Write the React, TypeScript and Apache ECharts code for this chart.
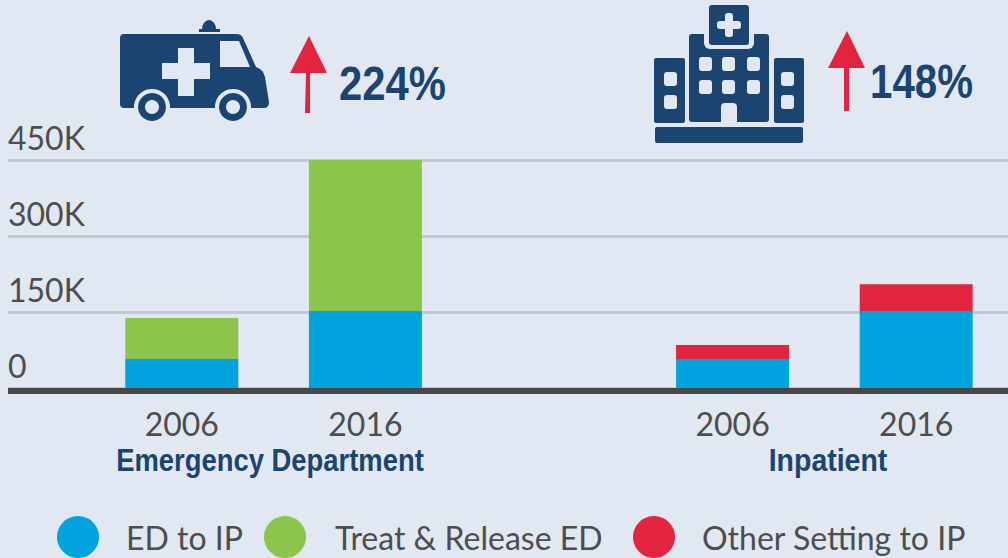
import React, { useEffect, useRef } from "react";
import * as echarts from "echarts";

const categories = ["2006", "2016", "", "2006", "2016"];
const edToIp = [57000, 152000, null, 57000, 152000];
const treatRelease = [81000, 298000, null, null, null];
const otherSetting = [null, null, null, 28000, 53000];
const yTicks = [0, 150000, 300000, 450000];

const BG = "#E1E8F1";
const NAVY = "#1B4471";
const RED = "#E3243F";
const TEXT = "#4D4D4D";

const AMBULANCE =
  "M124 34 L237 34 Q241 34 243 38 L256 67 Q263 69 265 77 L269 102 Q269 108 264 108 L124 108 Q120 108 120 104 L120 38 Q120 34 124 34 Z";
const DOME = "M202 29 A7 9 0 0 1 216 29 Z";

echarts.graphic.registerShape("ambulanceBody", echarts.graphic.extendPath(AMBULANCE, {}) as any);
echarts.graphic.registerShape("ambulanceDome", echarts.graphic.extendPath(DOME, {}) as any);

const rect = (x: number, y: number, w: number, h: number, fill: string, r: any = 0) => ({
  type: "rect",
  shape: { x, y, width: w, height: h, r },
  style: { fill },
});
const circle = (cx: number, cy: number, r: number, fill: string) => ({
  type: "circle",
  shape: { cx, cy, r },
  style: { fill },
});
const poly = (points: number[][], fill: string) => ({
  type: "polygon",
  shape: { points },
  style: { fill },
});
const label = (text: string, x: number, y: number, size: number, scaleX: number, align = "left") => ({
  type: "text",
  x,
  y,
  scaleX,
  style: {
    text,
    fill: NAVY,
    fontFamily: "'Liberation Sans', sans-serif",
    fontWeight: "bold",
    fontSize: size,
    align,
    verticalAlign: "middle",
  },
});

const ambulance = [
  { type: "ambulanceBody", x: 0, y: 0, style: { fill: NAVY } },
  { type: "ambulanceDome", x: 0, y: 0, style: { fill: NAVY } },
  rect(199, 29, 21, 3, NAVY),
  rect(178, 48, 16, 48, BG),
  rect(162, 63, 48, 16, BG),
  poly([[220, 41], [239, 41], [250, 67], [220, 67]], BG),
  circle(152, 107, 18, BG),
  circle(233, 107, 18, BG),
  circle(152, 107, 14, NAVY),
  circle(233, 107, 14, NAVY),
  circle(152, 107, 7, BG),
  circle(233, 107, 7, BG),
];

const hospitalWindows = [
  [699, 57], [722, 57], [747, 57],
  [699, 80], [722, 80], [747, 80],
  [664, 72], [664, 95], [781, 72], [781, 95],
];

const hospital = [
  rect(689, 34, 80, 88, NAVY, 3),
  rect(654, 58, 31, 65, NAVY, 2),
  rect(774, 58, 30, 65, NAVY, 2),
  rect(655, 127, 148, 16, NAVY, 2),
  rect(704, 20, 50, 29, BG, 6),
  rect(709, 5, 40, 40, NAVY, 3),
  rect(725, 13, 8, 24, BG, 3),
  rect(717, 21, 24, 8, BG, 3),
  ...hospitalWindows.map(([x, y]) => rect(x, y, 13, 14, BG, 3)),
  rect(721, 103, 16, 19, BG, [4, 4, 0, 0]),
];

const arrows = [
  poly([[309, 36], [327, 73], [310, 73], [310, 113], [305, 113], [306, 73], [290, 73]], RED),
  poly([[847, 31], [865, 68], [849, 68], [849, 111], [844, 111], [844, 68], [828, 68]], RED),
];

const legendLabels = ["ED to IP", "Treat & Release ED", "Other Setting to IP"];

export default function App() {
  const ref = useRef<HTMLDivElement>(null);
  useEffect(() => {
    document.body.style.margin = "0";
    const chart = echarts.init(ref.current!, null, { renderer: "svg" });
    const barSeries = (name: string, data: (number | null)[], color: string) => ({
      name,
      type: "bar",
      stack: "total",
      xAxisIndex: 1,
      yAxisIndex: 1,
      barWidth: 113,
      data,
      itemStyle: { color },
    });
    const legendAt = (name: string, left: number, textLeft: number) => ({
      left,
      top: 516,
      padding: 0,
      data: [name],
      itemWidth: 42,
      itemHeight: 42,
      icon: "circle",
      textStyle: { color: TEXT, fontSize: 32, padding: [0, 0, 2, textLeft], fontFamily: "Lato, sans-serif" },
    });
    chart.setOption({
      animation: false,
      backgroundColor: BG,
      textStyle: { fontFamily: "Lato, sans-serif" },
      grid: [
        { left: 8, width: 1000, top: 160, height: 228 },
        { left: 90, width: 921, top: 160, height: 228 },
      ],
      xAxis: [
        {
          gridIndex: 0,
          type: "category",
          data: [""],
          offset: 3,
          axisLine: { show: true, onZero: false, lineStyle: { color: "#484848", width: 6, cap: "butt" } },
          axisTick: { show: false },
          axisLabel: { show: false },
        },
        {
          gridIndex: 1,
          type: "category",
          data: categories,
          axisLine: { show: false },
          axisTick: { show: false },
          axisLabel: { interval: 0, color: TEXT, fontSize: 32, margin: 19, fontFamily: "Lato, sans-serif" },
        },
      ],
      yAxis: [
        {
          gridIndex: 0,
          type: "value",
          min: 0,
          max: 450000,
          interval: 150000,
          axisLine: { show: false },
          axisTick: { show: false },
          splitLine: { lineStyle: { color: "#C3C9D3", width: 3 } },
          axisLabel: {
            inside: true,
            margin: 0,
            color: TEXT,
            fontSize: 32,
            align: "left",
            verticalAlign: "bottom",
            padding: [0, 0, 7, 0],
            fontFamily: "Lato, sans-serif",
            formatter: (v: number) => (yTicks.includes(v) ? (v === 0 ? "0" : `${v / 1000}K`) : ""),
          },
        },
        { gridIndex: 1, type: "value", min: 0, max: 450000, interval: 150000, show: false },
      ],
      legend: [
        legendAt(legendLabels[0], 57, 22),
        legendAt(legendLabels[1], 264, 24),
        legendAt(legendLabels[2], 633, 22),
      ],
      series: [
        barSeries(legendLabels[0], edToIp, "#00A3DC"),
        barSeries(legendLabels[1], treatRelease, "#8BC54B"),
        barSeries(legendLabels[2], otherSetting, RED),
      ],
      graphic: [
        ...ambulance,
        ...hospital,
        ...arrows,
        label("224%", 339, 83, 48, 0.87),
        label("148%", 870, 81, 48, 0.84),
        label("Emergency Department", 270, 460, 32, 0.857, "center"),
        label("Inpatient", 828, 460, 32, 0.89, "center"),
      ],
    });
    return () => chart.dispose();
  }, []);
  return <div ref={ref} style={{ width: 1008, height: 558 }} />;
}
